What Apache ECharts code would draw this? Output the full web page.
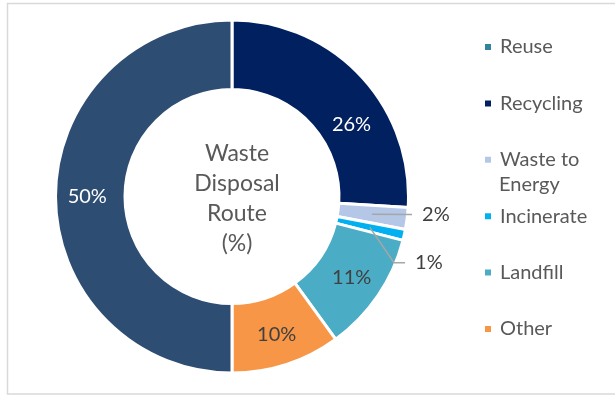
<!DOCTYPE html>
<html>
<head>
<meta charset="utf-8">
<script src="https://cdn.jsdelivr.net/npm/echarts@6/dist/echarts.min.js"></script>
<style>html,body{margin:0;padding:0;background:#fff}#c{width:615px;height:396px}</style>
</head>
<body>
<div id="c"></div>
<script>
const categories = ['Reuse', 'Recycling', 'Waste to Energy', 'Incinerate', 'Landfill', 'Other', 'Unlisted'];
const values = [0, 26, 2, 1, 11, 10, 50];
const colors = ['#31849B', '#002060', '#B4C7E7', '#00B0F0', '#4BACC6', '#F79646', '#2E4D73'];
const legendNames = ['Reuse', 'Recycling', 'Waste to Energy', 'Incinerate', 'Landfill', 'Other'];
const centerTitle = 'Waste\nDisposal\nRoute\n(%)';

const FONT = 'Lato, "Liberation Sans", sans-serif';
const CENTER = [232, 196.5];
const RADIUS = [107, 176.5];
const chart = echarts.init(document.getElementById('c'), null, {renderer: 'canvas'});

// which slices get their label inside (main series) or outside with a leader (overlay series)
const insideColor = {1: '#ffffff', 4: '#404040', 5: '#404040', 6: '#ffffff'};
const outsideIdx = [2, 3];

const mainData = categories.map((n, i) => ({
  name: n,
  value: values[i],
  itemStyle: {color: colors[i]},
  label: insideColor[i] ? {show: true, position: 'inside', color: insideColor[i]} : {show: false},
  labelLine: {show: false}
}));

const overlayData = categories.map((n, i) => ({
  name: n,
  value: values[i],
  label: outsideIdx.indexOf(i) >= 0 ? {show: true, position: 'outside', color: '#404040'} : {show: false},
  labelLine: {show: outsideIdx.indexOf(i) >= 0, length: 8, length2: 10,
    lineStyle: {color: '#A6A6A6', width: 1.5}}
}));

chart.setOption({
  animation: false,
  color: colors,
  title: {
    text: centerTitle,
    left: 232, top: 134,
    textAlign: 'center',
    textStyle: {fontFamily: FONT, fontSize: 23, fontWeight: 'normal', color: '#595959', lineHeight: 30}
  },
  legend: {
    data: legendNames,
    orient: 'vertical',
    left: 483, top: 37,
    padding: 0,
    itemGap: 36.4,
    itemWidth: 8, itemHeight: 8,
    icon: 'rect',
    textStyle: {fontFamily: FONT, fontSize: 20, color: '#595959', lineHeight: 20, padding: [0, 0, 0, 3]},
    formatter: n => n === 'Waste to Energy' ? 'Waste to' : n
  },
  graphic: [
    {type: 'rect', shape: {x: 7.5, y: 3.5, width: 700, height: 390.5}, style: {fill: 'none', stroke: '#D9D9D9', lineWidth: 1.5}, silent: true},
    {type: 'text', left: 499, top: 175, style: {text: 'Energy', font: '20px ' + FONT, fill: '#595959'}}
  ],
  series: [{
    type: 'pie',
    z: 2,
    center: CENTER,
    radius: RADIUS,
    startAngle: 90,
    clockwise: true,
    avoidLabelOverlap: false,
    itemStyle: {borderColor: '#ffffff', borderWidth: 3},
    label: {fontFamily: FONT, fontSize: 20, formatter: '{c}%'},
    labelLayout: function (p) {
      if (p.dataIndex === 1) return {dx: 14, dy: 27};
      return {};
    },
    data: mainData,
    emphasis: {disabled: true}
  }, {
    type: 'pie',
    z: 5,
    silent: true,
    center: CENTER,
    radius: RADIUS,
    startAngle: 90,
    clockwise: true,
    avoidLabelOverlap: false,
    legendHoverLink: false,
    itemStyle: {color: 'rgba(0,0,0,0)', borderWidth: 0},
    label: {fontFamily: FONT, fontSize: 20, formatter: '{c}%'},
    labelLayout: function (p) {
      if (p.labelLinePoints && (p.dataIndex === 2 || p.dataIndex === 3)) {
        const r = p.labelRect;
        const dx = p.dataIndex === 2 ? -8 : -12;
        const dy = p.dataIndex === 2 ? -5 : 26;
        const p0 = p.labelLinePoints[0];
        const s = [CENTER[0] + (p0[0] - CENTER[0]) * 0.8, CENTER[1] + (p0[1] - CENTER[1]) * 0.8];
        const ey = r.y + dy + r.height / 2;
        const ex = r.x + dx - 10;
        const pts = p.dataIndex === 2 ? [s, [ex, ey]] : [s, [ex - 11, ey], [ex, ey]];
        return {dx: dx, dy: dy, labelLinePoints: pts};
      }
      return {};
    },
    data: overlayData,
    emphasis: {disabled: true}
  }]
});
</script>
</body>
</html>
